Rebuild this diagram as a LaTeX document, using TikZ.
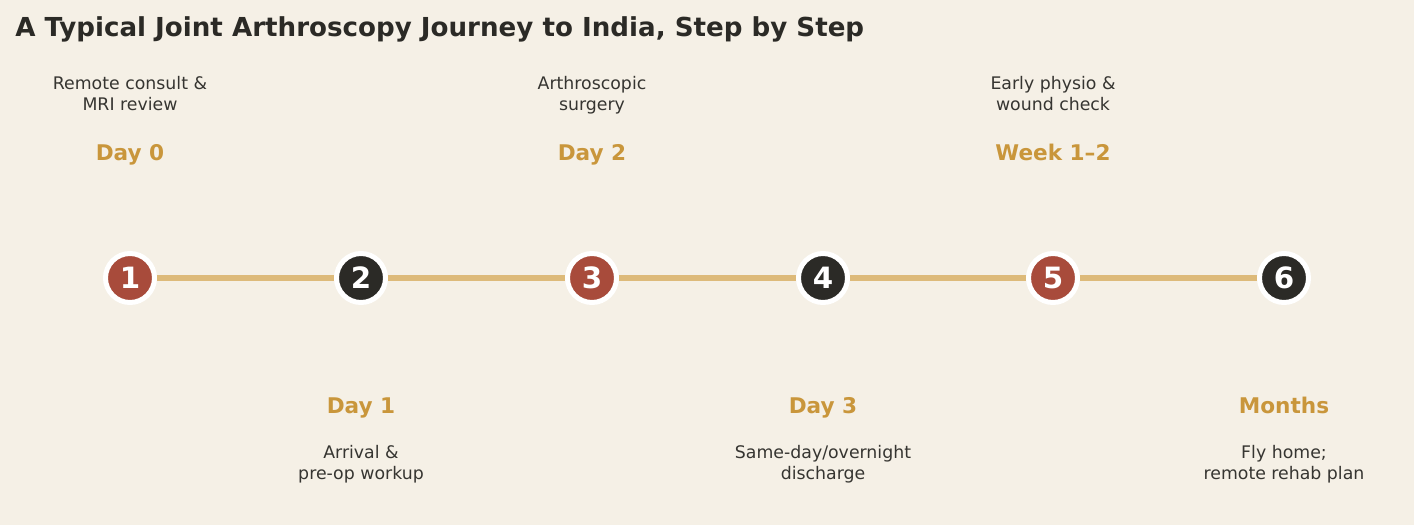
\documentclass[tikz,border=0pt]{standalone}
\usepackage{fontspec}
\setmainfont{DejaVu Sans}
\usetikzlibrary{positioning}
\definecolor{paper}{HTML}{F5F0E6}
\definecolor{ink}{HTML}{2B2A26}
\definecolor{brick}{HTML}{A84B3B}
\definecolor{ochre}{HTML}{C9963B}
\definecolor{sand}{HTML}{DDBA7A}
\tikzset{
  stepdot/.style={circle, draw=white, line width=3.75pt, minimum size=36.75pt, inner sep=0pt,
    text=white, font=\fontsize{22}{22}\selectfont\bfseries},
  reddot/.style={stepdot, fill=brick},
  darkdot/.style={stepdot, fill=ink},
  daylabel/.style={anchor=base, text=ochre, font=\fontsize{16.2}{16.2}\selectfont\bfseries},
  desc/.style={anchor=base, text=ink!95, align=center, font=\fontsize{13}{15.75}\selectfont},
  track/.style={draw=sand, line width=4.5pt}
}
\begin{document}
\begin{tikzpicture}[x=0.75pt,y=-0.75pt]
        % Background
        \fill[paper] (0,0) rectangle (1414,525);
        \useasboundingbox (0,0) rectangle (1414,525);

        % Title
        \node[anchor=base west, inner sep=0pt, text=ink, font=\fontsize{19.6}{20}\selectfont\bfseries] (title) at (15,36)
          {A Typical Joint Arthroscopy Journey to India, Step by Step};

        % The steps on the line
        \node[reddot] (s1) at (130,278) {1};
        \node[darkdot] (s2) at (361,278) {2};
        \node[reddot] (s3) at (592,278) {3};
        \node[darkdot] (s4) at (823,278) {4};
        \node[reddot] (s5) at (1053,278) {5};
        \node[darkdot] (s6) at (1284,278) {6};

        % Track between the steps
        \draw[track] (s1) -- (s2);
        \draw[track] (s2) -- (s3);
        \draw[track] (s3) -- (s4);
        \draw[track] (s4) -- (s5);
        \draw[track] (s5) -- (s6);

        % Labels above (base = last line)
        \node[daylabel] (d1) at (130,160) {Day 0};
        \node[desc] (t1) at (130,110) {Remote consult \&\\MRI review};
        \node[daylabel] (d3) at (592,160) {Day 2};
        \node[desc] (t3) at (592,110) {Arthroscopic\\surgery};
        \node[daylabel] (d5) at (1053,160) {Week 1–2};
        \node[desc] (t5) at (1053,110) {Early physio \&\\wound check};

        % Labels below
        \node[daylabel] (d2) at (361,413) {Day 1};
        \node[desc] (t2) at (361,479) {Arrival \&\\pre-op workup};
        \node[daylabel] (d4) at (823,413) {Day 3};
        \node[desc] (t4) at (823,479) {Same-day/overnight\\discharge};
        \node[daylabel] (d6) at (1284,413) {Months};
        \node[desc] (t6) at (1284,479) {Fly home;\\remote rehab plan};
\end{tikzpicture}
\end{document}
